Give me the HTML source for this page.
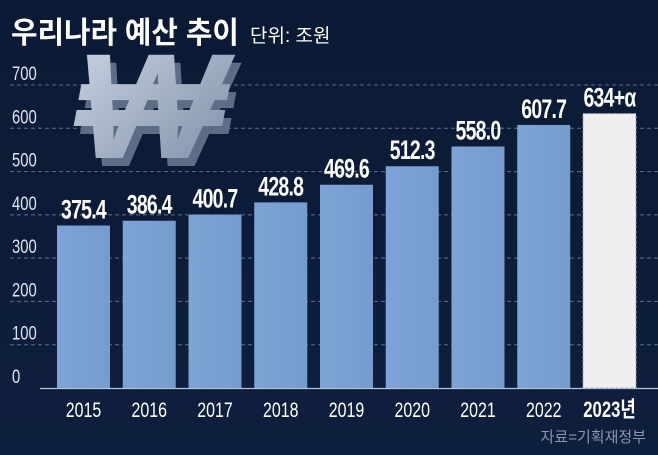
<!DOCTYPE html>
<html><head><meta charset="utf-8"><style>
html,body{margin:0;padding:0;background:#0c1b36;}
svg{display:block;}
</style></head><body>
<svg id="chart" width="658" height="455" viewBox="0 0 658 455" xmlns="http://www.w3.org/2000/svg">
<defs>
<linearGradient id="bg" x1="0" y1="0" x2="0" y2="1"><stop offset="0" stop-color="#0b1a34"/><stop offset="1" stop-color="#0e1f3d"/></linearGradient>
<linearGradient id="barg" x1="0" y1="0" x2="1" y2="0"><stop offset="0" stop-color="#7ea3d6"/><stop offset="1" stop-color="#769ccf"/></linearGradient>
<linearGradient id="wg" x1="0" y1="0" x2="1" y2="1"><stop offset="0" stop-color="#c9d3e2"/><stop offset="1" stop-color="#7f8fa8"/></linearGradient>
</defs>
<rect width="658" height="455" fill="url(#bg)"/>
<text x="11" y="43" fill="#fff" font-size="30" font-weight="bold" font-family="'Liberation Sans','Noto Sans CJK KR',sans-serif" transform="translate(11,0) scale(0.96,1) translate(-11,0)">우리나라 예산 추이</text>
<text x="250" y="42" fill="#fff" font-size="19" font-family="'Liberation Sans','Noto Sans CJK KR',sans-serif">단위: 조원</text>
<g id="grid"></g>
<g transform="translate(142,158) scale(1.05,1)">
<text x="0" y="0" text-anchor="middle" font-size="150" font-weight="bold" fill="#5d6d86" font-family="'Liberation Sans',sans-serif" transform="translate(6,8) skewX(-10)">₩</text>
<text x="0" y="0" text-anchor="middle" font-size="150" font-weight="bold" fill="url(#wg)" font-family="'Liberation Sans',sans-serif" transform="skewX(-10)">₩</text>
</g>
<g id="bars"></g>
<text x="646" y="442" text-anchor="end" fill="#8a97ad" font-size="15" font-family="'Liberation Sans','Noto Sans CJK KR',sans-serif">자료=기획재정부</text>
</svg>
<script>
const categories = ["2015","2016","2017","2018","2019","2020","2021","2022","2023년"];
const values = [375.4,386.4,400.7,428.8,469.6,512.3,558.0,607.7,634];
const valueLabels = ["375.4","386.4","400.7","428.8","469.6","512.3","558.0","607.7","634+α"];
const yTicks = [0,100,200,300,400,500,600,700];
const NS="http://www.w3.org/2000/svg";
const y0=388, ppu=303/700, x0=83.5, pitch=65.75, bw=53;
const y=v=>y0-v*ppu, x=i=>x0+i*pitch;
const FN="'Liberation Sans','Noto Sans CJK KR',sans-serif";
function mk(tag,attrs,parent){const e=document.createElementNS(NS,tag);for(const k in attrs)e.setAttribute(k,attrs[k]);parent.appendChild(e);return e;}
const grid=document.getElementById('grid'), bars=document.getElementById('bars');
yTicks.forEach(t=>{
  if(t>0){const l=mk('line',{x1:10,x2:658,y1:y(t),y2:y(t),stroke:'#5a6f92','stroke-width':1,'stroke-dasharray':'4 3'},grid);
  
  }
  const tx=mk('text',{x:0,y:0,fill:'#dfe5ef','font-size':19,'font-family':FN,transform:'translate(12,'+(y(t)-5)+') scale(0.78,1)'},grid);
  tx.textContent=t;
  
  
});
const base=mk('line',{x1:40,x2:658,y1:y0+0.5,y2:y0+0.5,stroke:'#b7c3d6','stroke-width':1.2},grid);


categories.forEach((c,i)=>{
  const last=i===categories.length-1;
  const r=mk('rect',{x:x(i)-bw/2,y:y(values[i]),width:bw,height:y0-y(values[i]),fill:last?'#efefef':'url(#barg)'},bars);
  if(last){r.setAttribute('stroke','#9aa8bd');r.setAttribute('stroke-dasharray','3 2');r.setAttribute('stroke-width','1');}
  
  
  const v=mk('text',{x:0,y:0,'text-anchor':'middle',fill:'#fff','font-size':27,'font-weight':'bold','font-family':FN,'letter-spacing':'-1',transform:'translate('+x(i)+','+(y(values[i])-7)+') scale(0.72,1)'},bars);
  v.textContent=valueLabels[i];
  
  
  const xl=mk('text',{x:0,y:0,'text-anchor':'middle',fill:'#fff','font-size':last?22:21,'font-weight':last?'bold':'normal','font-family':FN,transform:'translate('+x(i)+',417) scale(0.76,1)'},bars);
  xl.textContent=c;
  
  
});
</script>
</body></html>
